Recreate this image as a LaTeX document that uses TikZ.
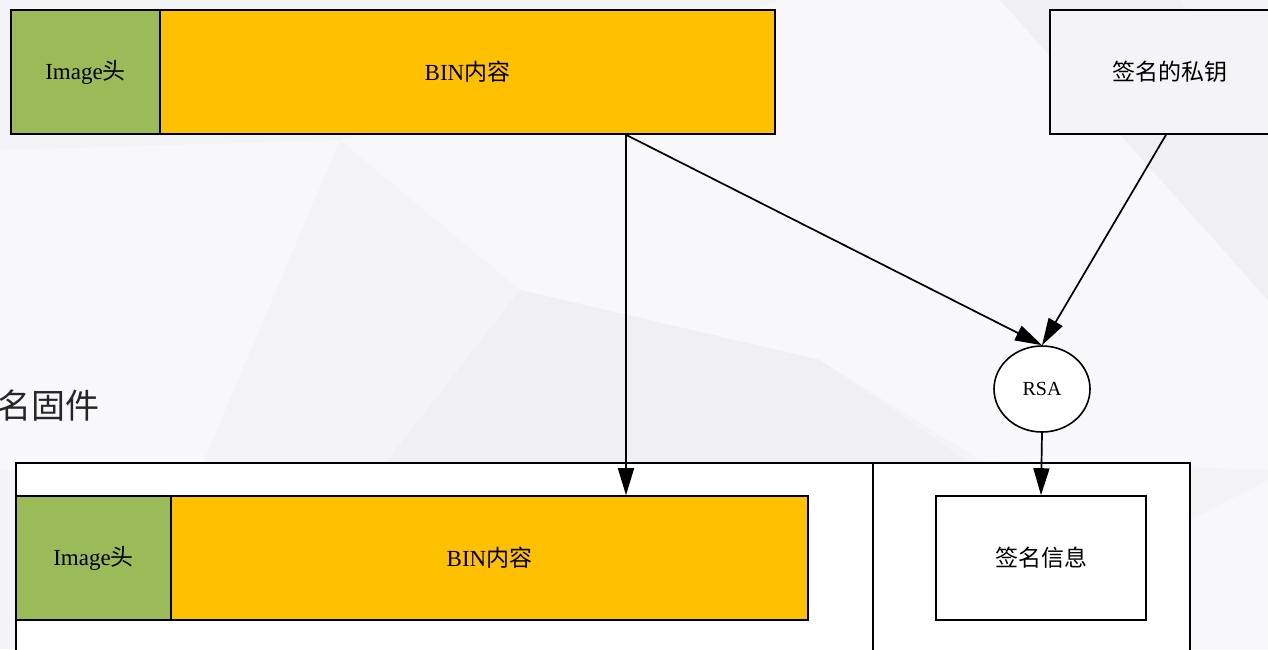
\documentclass[tikz,border=0pt]{standalone}
\usepackage{fontspec}
\setmainfont{Liberation Serif}
\newfontfamily\cjk{Noto Sans CJK SC}
\usetikzlibrary{arrows.meta,shapes.geometric,calc}
\definecolor{bgc}{HTML}{F4F4F6}
\definecolor{bgl}{HTML}{F8F8FA}
\definecolor{bgd}{HTML}{F0F0F2}
\definecolor{hdrgreen}{HTML}{9BBB59}
\definecolor{binorange}{HTML}{FFC000}
\tikzset{
  blk/.style={draw=black,line width=1.6pt,rectangle,inner sep=0pt,font=\fontsize{23}{26}\selectfont},
  conn/.style={line width=1.7pt,-{Triangle[length=27pt,width=16pt]}},
}
\begin{document}
\begin{tikzpicture}[x=1pt,y=-1pt]
\useasboundingbox (0,0) rectangle (1268,649);
% background
\fill[bgc] (0,0) rectangle (1268,649);
\fill[bgl] (340,140) -- (520,290) -- (820,360) -- (980,460) -- (1268,470) -- (1268,300) -- (1000,0) -- (780,0) -- cycle;
\fill[bgl] (0,150) -- (340,140) -- (200,470) -- (0,470) -- cycle;
\fill[bgd] (520,290) -- (380,470) -- (980,470) -- (820,360) -- cycle;
\fill[bgd] (830,0) -- (1000,0) -- (1268,300) -- (1268,120) -- (1180,0) -- cycle;
\fill[bgl] (1190,520) -- (1268,480) -- (1268,649) -- (1190,649) -- cycle;
% title fragment
\node[anchor=east,font=\fontsize{34}{38}\selectfont\cjk,text=black!85] (title) at (103,406) {签名固件};
% top row
\node[blk,fill=hdrgreen,minimum width=149pt,minimum height=124pt] (hdr1) at (85.5,72) {Image{\cjk 头}};
\node[blk,fill=binorange,minimum width=615pt,minimum height=124pt] (bin1) at (467.5,72) {BIN{\cjk 内容}};
\node[blk,fill=bgc,minimum width=240pt,minimum height=124pt] (key) at (1170,72) {\cjk 签名的私钥};
% RSA
\node[draw=black,line width=1.6pt,ellipse,fill=white,minimum width=96pt,minimum height=86pt,inner sep=0pt,font=\fontsize{20}{23}\selectfont] (rsa) at (1042,389) {RSA};
% bottom containers
\node[blk,fill=white,minimum width=857pt,minimum height=220pt] (img) at (444.5,573) {};
\node[blk,fill=white,minimum width=317pt,minimum height=220pt] (sigbox) at (1031.5,573) {};
\node[blk,fill=hdrgreen,minimum width=155pt,minimum height=124pt] (hdr2) at (93.5,558) {Image{\cjk 头}};
\node[blk,fill=binorange,minimum width=637pt,minimum height=124pt] (bin2) at (489.5,558) {BIN{\cjk 内容}};
\node[blk,fill=white,minimum width=210pt,minimum height=124pt] (sig) at (1041,558) {\cjk 签名信息};
% connectors
\coordinate (tap) at ([xshift=158.5pt]bin1.south);
\coordinate (keyout) at ([xshift=-4pt]key.south);
\draw[conn] (tap) -- (tap |- bin2.north);
\draw[conn] (tap) -- (rsa.north);
\draw[conn] (keyout) -- (rsa.north);
\draw[conn] (rsa.south) -- (sig.north);
\end{tikzpicture}
\end{document}
